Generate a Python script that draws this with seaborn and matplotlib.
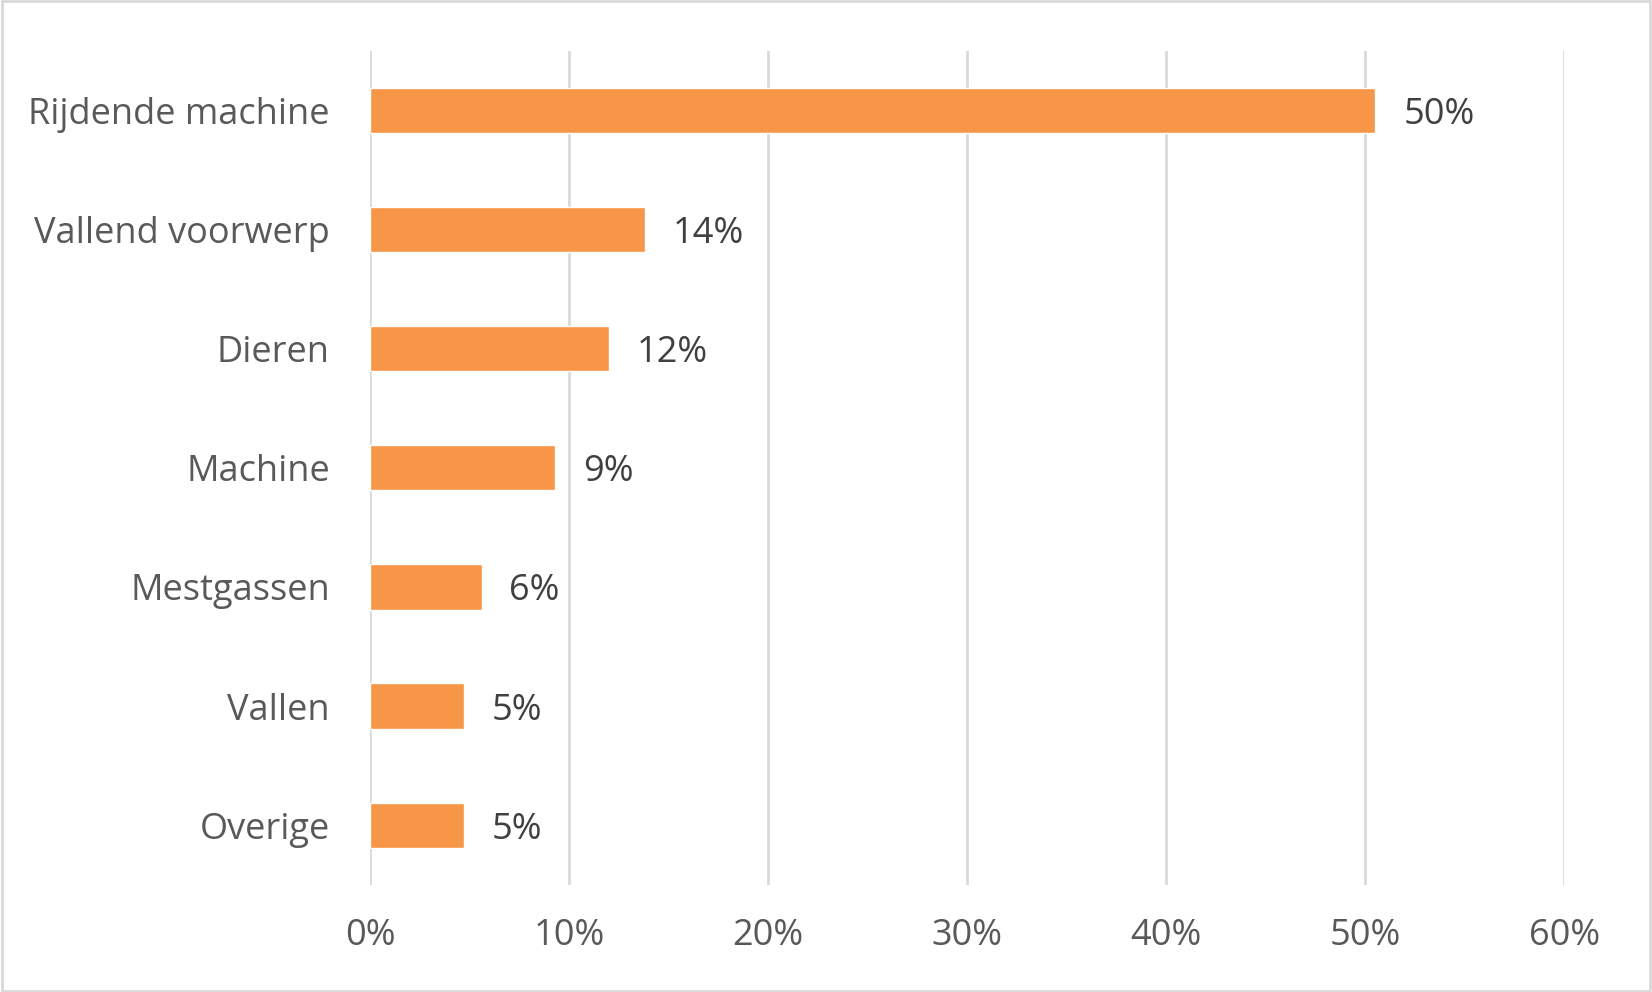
import numpy as np
import pandas as pd
import matplotlib
matplotlib.use("Agg")
import matplotlib.pyplot as plt
from matplotlib.patches import Rectangle
import seaborn as sns

# data
categories = ["Rijdende machine", "Vallend voorwerp", "Dieren", "Machine",
              "Mestgassen", "Vallen", "Overige"]
values = [50.5, 13.8, 12.0, 9.3, 5.6, 4.7, 4.7]
value_labels = ["50%", "14%", "12%", "9%", "6%", "5%", "5%"]
x_ticks = [0, 10, 20, 30, 40, 50, 60]
x_tick_labels = ["0%", "10%", "20%", "30%", "40%", "50%", "60%"]

df = pd.DataFrame({"oorzaak": categories, "aandeel": values})

sns.set_theme(style="white")
plt.rcParams["font.family"] = ["Open Sans", "DejaVu Sans"]

fig = plt.figure(figsize=(16.52, 9.92), dpi=100)
ax = fig.add_axes([0.224, 0.108, 0.723, 0.841])

sns.barplot(data=df, x="aandeel", y="oorzaak", color="#F79646",
            saturation=1, width=0.38, ax=ax)

ax.set_xlim(0, 60)
ax.set_xticks(x_ticks)
ax.set_xticklabels(x_tick_labels)
ax.xaxis.grid(True, color="#D9D9D9", linewidth=2)
ax.set_axisbelow(True)
for s in ax.spines.values():
    s.set_visible(False)
ax.set_xlabel("")
ax.set_ylabel("")
ax.tick_params(axis="x", length=0, pad=24, labelsize=26, labelcolor="#595959")
ax.tick_params(axis="y", length=0, pad=29, labelsize=26, labelcolor="#595959")

for i, (v, lab) in enumerate(zip(values, value_labels)):
    ax.text(v + 1.4, i, lab, va="center_baseline", ha="left", fontsize=26, color="#404040")

# light frame around the whole chart
fig.patches.append(Rectangle((0.001, 0.001), 0.998, 0.998, transform=fig.transFigure,
                             fill=False, edgecolor="#D9D9D9", linewidth=2))

fig.savefig("out.png", dpi=100, facecolor="white")
